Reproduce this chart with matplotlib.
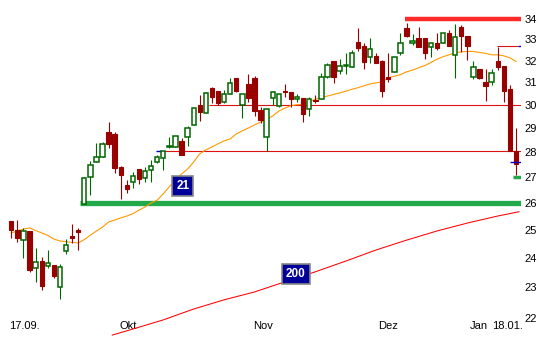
import numpy as np
import matplotlib
matplotlib.use("Agg")
import matplotlib.pyplot as plt

plt.rcParams['font.family'] = ['Liberation Sans', 'DejaVu Sans']

# daily candles, 17.09. - 18.01.
opens = [25.34, 25.00, 24.65, 24.97, 23.66, 23.90, 23.73, 23.77, 23.02, 24.26,
         24.79, 25.00, 25.97, 27.02, 27.61, 27.81, 28.85, 28.76, 27.41, 26.71,
         26.82, 27.33, 26.98, 27.29, 27.61, 27.77, 28.22, 28.22, 28.47, 28.63,
         29.14, 30.00, 29.65, 30.75, 30.62, 30.12, 30.48, 31.21, 30.00, 30.93,
         31.21, 29.78, 28.63, 30.30, 29.95, 30.62, 30.57, 30.26, 30.30, 29.82,
         30.21, 30.26, 31.25, 31.99, 31.52, 31.75, 31.70, 32.88, 32.69, 32.18,
         32.22, 31.99, 31.25, 31.47, 32.36, 33.56, 32.83, 33.07, 33.07, 32.64,
         32.83, 32.83, 33.31, 32.27, 33.61, 33.17, 31.25, 31.61, 31.02, 31.02,
         31.99, 31.75, 30.71, 28.06]
highs = [25.34, 25.37, 25.08, 24.97, 24.36, 24.04, 24.29, 23.77, 23.80, 24.68,
         25.22, 25.08, 27.02, 27.65, 28.39, 28.43, 29.26, 28.85, 27.45, 26.90,
         27.21, 27.33, 27.41, 27.69, 27.89, 28.06, 28.63, 28.68, 28.59, 29.10,
         29.86, 30.44, 30.57, 30.80, 30.62, 30.66, 31.21, 31.21, 30.48, 31.38,
         31.30, 29.91, 29.82, 30.62, 30.48, 30.93, 30.57, 30.48, 30.30, 30.35,
         30.44, 31.43, 31.89, 31.99, 32.08, 32.36, 32.50, 33.56, 32.83, 33.07,
         32.36, 32.03, 32.36, 32.18, 33.31, 33.80, 33.26, 33.61, 33.07, 32.83,
         33.31, 33.31, 33.46, 33.75, 33.70, 33.17, 31.99, 31.61, 31.61, 31.61,
         32.64, 31.75, 30.89, 29.01]
lows = [24.72, 24.58, 24.01, 23.53, 23.19, 22.92, 23.66, 23.32, 22.62, 24.15,
        24.54, 24.29, 25.97, 26.32, 27.61, 27.81, 28.18, 27.17, 26.16, 26.39,
        26.59, 26.75, 26.82, 26.82, 27.57, 27.29, 28.18, 28.22, 27.89, 28.26,
        29.14, 29.31, 29.65, 30.08, 30.00, 30.08, 30.48, 30.57, 29.43, 30.12,
        29.52, 29.22, 28.06, 30.00, 29.91, 30.35, 29.91, 30.12, 29.26, 29.52,
        30.08, 30.26, 31.21, 30.98, 31.38, 31.38, 31.70, 32.46, 31.61, 31.89,
        31.89, 30.35, 31.02, 31.47, 32.27, 33.12, 32.74, 32.64, 32.08, 32.18,
        32.50, 32.83, 32.69, 31.21, 32.41, 32.03, 31.16, 31.16, 30.17, 30.89,
        31.57, 30.12, 28.06, 27.10]
closes = [25.00, 24.72, 24.97, 23.60, 23.87, 23.05, 23.84, 23.39, 23.70, 24.47,
          24.72, 24.93, 26.98, 27.49, 27.81, 28.35, 28.35, 27.37, 27.10, 26.55,
          27.06, 26.94, 27.25, 27.45, 27.81, 28.06, 28.26, 28.68, 27.89, 29.01,
          29.86, 29.69, 30.53, 30.35, 30.08, 30.48, 30.98, 30.62, 30.48, 30.30,
          29.73, 29.35, 29.82, 30.57, 30.48, 30.57, 30.26, 30.35, 29.60, 30.26,
          30.17, 31.25, 31.80, 31.25, 31.75, 31.80, 32.36, 32.60, 31.94, 32.55,
          31.89, 30.62, 31.16, 32.18, 32.83, 33.17, 32.92, 32.64, 32.36, 32.83,
          32.60, 33.31, 32.69, 33.12, 33.17, 32.69, 31.70, 31.21, 30.84, 31.43,
          31.70, 30.62, 28.06, 27.53]

# 21 day average (read per candle)
ma21 = [24.90, 24.97, 25.04, 25.08, 24.99, 24.90, 24.81, 24.68, 24.61, 24.58,
        24.56, 24.54, 24.66, 24.82, 24.97, 25.11, 25.30, 25.37, 25.45, 25.52,
        25.61, 25.74, 25.86, 26.01, 26.12, 26.36, 26.63, 26.90, 27.13, 27.33,
        27.61, 27.94, 28.10, 28.22, 28.35, 28.47, 28.55, 28.76, 28.89, 29.01,
        29.14, 29.26, 29.39, 29.52, 29.73, 29.86, 29.97, 30.01, 30.03, 30.14,
        30.24, 30.33, 30.39, 30.46, 30.53, 30.60, 30.69, 30.76, 30.85, 30.93,
        30.98, 31.02, 31.21, 31.28, 31.35, 31.48, 31.56, 31.67, 31.77, 31.91,
        32.06, 32.18, 32.27, 32.36, 32.41, 32.43, 32.43, 32.38, 32.34, 32.27,
        32.27, 32.22, 32.13, 31.96]

# 200 day average
ma200_idx = [16.6, 20, 25, 30, 35, 40, 45, 50, 55, 60, 65, 70, 75, 80, 83.5]
ma200 = [21.46, 21.65, 21.94, 22.29, 22.59, 22.85, 23.19, 23.53, 23.90, 24.29,
         24.64, 24.97, 25.26, 25.52, 25.68]

tick_pos = [2.1, 19.2, 41.4, 61.9, 76.9, 81.6]
tick_labels = ["17.09.", "Okt", "Nov", "Dez", "Jan", "18.01."]
y_ticks = [22, 23, 24, 25, 26, 27, 28, 29, 30, 31, 32, 33, 34]

fig = plt.figure(figsize=(5.4, 3.6), dpi=100)
ax = fig.add_axes([0, 1 - 318 / 360, 521 / 540, 318 / 360])

x = np.arange(len(closes))
o = np.array(opens)
c = np.array(closes)
up = c >= o
green = '#006600'
red = '#990000'
wick_col = [green if u else red for u in up]
ax.vlines(x, lows, highs, colors=wick_col, linewidth=0.8, zorder=3)
body_lo = np.minimum(o, c)
body_h = np.maximum(np.abs(c - o), 0.03)
ax.bar(x[up], body_h[up], bottom=body_lo[up], width=0.72,
       facecolor='white', edgecolor=green, linewidth=1.1, zorder=4)
ax.bar(x[~up], body_h[~up], bottom=body_lo[~up], width=0.72,
       facecolor=red, edgecolor=red, linewidth=0.8, zorder=4)

ax.plot(x, ma21, color='#ff9900', linewidth=0.8, zorder=2)
ax.plot(ma200_idx, ma200, color='#ff0000', linewidth=0.75, zorder=2, clip_on=False)

right = 83.85
# level lines
ax.hlines(34.0, 64.8, right, color='#ff2a2a', linewidth=3.2, zorder=1)
ax.hlines(26.0, 11.3, right, color='#22aa4a', linewidth=3.8, zorder=1)
ax.hlines(30.0, 32.5, right, color='#dd1111', linewidth=0.8, zorder=1)
ax.hlines(28.06, 24.8, right, color='#dd1111', linewidth=0.8, zorder=1)
ax.hlines(28.06, 23.8, 24.8, color='#0000cc', linewidth=1.0, zorder=1)
ax.hlines(32.69, 79.9, 83.3, color='#dd1111', linewidth=0.8, zorder=1)
ax.hlines(32.69, 83.3, right, color='#0000cc', linewidth=1.0, zorder=1)
ax.hlines(27.6, 82.0, right, color='#0000cc', linewidth=1.0, zorder=5)
ax.hlines(27.0, 82.5, right, color='#22aa4a', linewidth=2.5, zorder=1)

box = dict(boxstyle='square,pad=0.32', facecolor='#000099', edgecolor='#888888', linewidth=1.2)
ax.text(28.2, 26.67, "21", color='white', fontsize=8.5, fontweight='bold',
        ha='center', va='center', bbox=box, zorder=6)
ax.text(46.8, 23.46, "200", color='white', fontsize=8.5, fontweight='bold',
        ha='center', va='center', bbox=box, zorder=6)

ax.set_yscale('log')
ax.set_ylim(22, 34.95)
ax.set_xlim(-1.86, 83.83)
ax.yaxis.tick_right()
ax.set_yticks(y_ticks)
ax.set_yticklabels([str(v) for v in y_ticks])
ax.minorticks_off()
ax.set_xticks(tick_pos)
ax.set_xticklabels(tick_labels)
ax.tick_params(length=0, labelsize=8, pad=2.5)
for s in ax.spines.values():
    s.set_visible(False)

fig.savefig("out.png", dpi=100, facecolor='white')
